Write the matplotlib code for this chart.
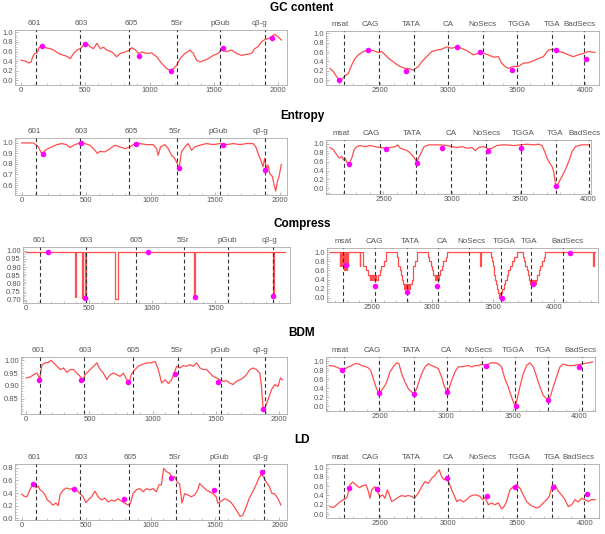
import matplotlib
matplotlib.use('Agg')
import matplotlib.pyplot as plt
from matplotlib.ticker import FormatStrFormatter, AutoMinorLocator

plt.rcParams['font.family'] = ['Liberation Sans', 'DejaVu Sans']

# region names
left_names = ['601', '603', '605', '5Sr', 'pGub', 'cβ-g']
right_names = ['msat', 'CAG', 'TATA', 'CA', 'NoSecs', 'TGGA', 'TGA', 'BadSecs']

# ---- GC content ----
gc_l_x = [0, 34, 60, 78, 91, 106, 124, 142, 163, 189, 228, 254, 292, 331, 357, 383, 409, 435, 461, 487,
          512, 538, 564, 590, 616, 642, 668, 707, 745, 771, 810, 844, 862, 888, 914, 939, 978, 1017, 1056, 1095,
          1134, 1159, 1185, 1211, 1237, 1276, 1315, 1341, 1366, 1392, 1431, 1457, 1496, 1535, 1553, 1599, 1638,
          1677, 1716, 1755, 1793, 1819, 1845, 1871, 1897, 1923, 1949, 1975, 2000, 2026]
gc_l_y = [0.42, 0.40, 0.36, 0.38, 0.49, 0.56, 0.57, 0.69, 0.71, 0.68, 0.66, 0.63, 0.56, 0.52, 0.50, 0.45, 0.56, 0.63, 0.66, 0.73,
          0.77, 0.70, 0.66, 0.77, 0.66, 0.69, 0.63, 0.59, 0.49, 0.56, 0.59, 0.63, 0.68, 0.64, 0.56, 0.59, 0.56, 0.57, 0.49, 0.35,
          0.24, 0.21, 0.24, 0.31, 0.45, 0.56, 0.63, 0.56, 0.42, 0.38, 0.42, 0.45, 0.52, 0.56, 0.63, 0.60, 0.63,
          0.56, 0.52, 0.54, 0.56, 0.66, 0.70, 0.80, 0.85, 0.87, 0.91, 0.96, 0.91, 0.84]
gc_l_dot_x = [163, 500, 921, 1167, 1568, 1956]
gc_l_dot_y = [0.71, 0.75, 0.51, 0.20, 0.68, 0.89]
gc_l_cuts = [114, 459, 843, 1211, 1549, 1897]
gc_l_name_x = [106, 468, 857, 1211, 1548, 1858]

gc_r_x = [2134, 2159, 2183, 2203, 2220, 2244, 2268, 2293, 2317, 2342, 2378, 2415, 2451, 2488, 2512, 2537, 2573, 2610, 2646, 2683,
          2720, 2744, 2781, 2805, 2841, 2878, 2914, 2951, 2988, 3024, 3061, 3097, 3134, 3183, 3219, 3256, 3292, 3329, 3366, 3390,
          3414, 3439, 3475, 3512, 3548, 3585, 3621, 3658, 3695, 3731, 3768, 3804, 3841, 3878, 3914, 3951, 3987, 4024, 4072]
gc_r_y = [0.25, 0.18, 0.07, 0.0, 0.01, 0.09, 0.14, 0.32, 0.46, 0.54, 0.61, 0.64, 0.63, 0.59, 0.61, 0.54, 0.44, 0.36, 0.29, 0.25,
          0.24, 0.21, 0.29, 0.39, 0.50, 0.61, 0.64, 0.66, 0.71, 0.68, 0.71, 0.68, 0.63, 0.54, 0.57, 0.57, 0.54, 0.49, 0.50, 0.36,
          0.29, 0.25, 0.29, 0.29, 0.36, 0.37, 0.41, 0.46, 0.50, 0.64, 0.66, 0.61, 0.59, 0.54, 0.50, 0.54, 0.57, 0.61, 0.59]
gc_r_dot_x = [2203, 2415, 2690, 3061, 3231, 3468, 3785, 4007]
gc_r_dot_y = [0.0, 0.64, 0.19, 0.70, 0.59, 0.21, 0.64, 0.44]
gc_r_cuts = [2239, 2495, 2751, 3000, 3251, 3505, 3761, 3992]
gc_r_name_x = [2207, 2427, 2727, 3000, 3251, 3519, 3756, 3958]

# ---- Entropy ----
ent_l_x = [0, 90, 108, 129, 147, 163, 181, 206, 232, 271, 310, 348, 374, 413, 452, 490, 529, 568, 586, 606,
           645, 684, 722, 761, 800, 839, 877, 916, 968, 1019, 1045, 1058, 1076, 1109, 1135, 1161, 1187, 1205, 1220, 1238,
           1264, 1290, 1316, 1342, 1380, 1432, 1484, 1535, 1587, 1638, 1690, 1742, 1793, 1814, 1832, 1858, 1870, 1883,
           1896, 1909, 1922, 1943, 1956, 1969, 1981, 1994, 2012]
ent_l_y = [1.0, 1.0, 0.985, 0.962, 0.915, 0.893, 0.93, 0.946, 0.962, 0.984, 0.994, 0.984, 0.956, 0.984, 1.0, 0.994, 0.978, 0.93, 0.90, 0.92,
           0.915, 0.946, 0.978, 0.962, 0.946, 0.962, 0.994, 0.994, 0.984, 0.984, 0.946, 0.883, 0.962, 0.984, 0.946, 0.883, 0.852, 0.805, 0.757, 0.915,
           0.962, 0.994, 0.93, 0.962, 0.978, 0.994, 0.984, 0.994, 0.984, 0.994, 0.984, 0.994, 0.994, 0.962, 0.90, 0.82, 0.773, 0.852,
           0.757, 0.789, 0.71, 0.68, 0.60, 0.543, 0.63, 0.68, 0.795]
ent_l_dot_x = [163, 459, 885, 1220, 1561, 1889]
ent_l_dot_y = [0.893, 1.0, 0.994, 0.757, 0.984, 0.742]
ent_l_cuts = [108, 452, 833, 1200, 1535, 1883]
ent_l_name_x = [98, 459, 846, 1187, 1527, 1850]

ent_r_x = [2108, 2132, 2157, 2176, 2194, 2206, 2218, 2230, 2250, 2267, 2284, 2304, 2328, 2365, 2402, 2439, 2475, 2512, 2549, 2586,
           2603, 2623, 2659, 2684, 2708, 2728, 2745, 2757, 2775, 2799, 2831, 2868, 2917, 2966, 3002, 3039, 3076, 3113, 3150, 3174,
           3199, 3235, 3272, 3297, 3333, 3370, 3407, 3456, 3505, 3554, 3603, 3640, 3664, 3684, 3701, 3721, 3738, 3750,
           3762, 3772, 3790, 3810, 3835, 3860, 3885, 3910, 3950, 4007]
ent_r_y = [0.92, 0.87, 0.755, 0.68, 0.72, 0.64, 0.68, 0.59, 0.57, 0.68, 0.87, 0.94, 0.965, 0.94, 0.965, 0.94, 0.92, 0.905, 0.92, 0.94,
           0.98, 0.905, 0.87, 0.83, 0.755, 0.68, 0.59, 0.68, 0.79, 0.94, 0.98, 0.98, 0.98, 0.965, 0.94, 0.92, 0.94, 0.905, 0.92, 0.85,
           0.92, 0.94, 0.89, 0.905, 0.965, 0.98, 0.98, 0.965, 0.98, 0.995, 0.98, 0.995, 0.965, 0.83, 0.68, 0.57, 0.49, 0.38,
           0.11, 0.04, 0.15, 0.26, 0.415, 0.60, 0.83, 0.94, 0.98, 0.98]
ent_r_dot_x = [2248, 2520, 2745, 2929, 3265, 3510, 3770]
ent_r_dot_y = [0.54, 0.89, 0.57, 0.92, 0.85, 0.92, 0.04]
ent_r_cuts = [2213, 2475, 2740, 2995, 3255, 3510, 3770, 4012]
ent_r_name_x = [2186, 2409, 2708, 2998, 3255, 3524, 3757, 3975]

# ---- Compress ----
comp_l_x = [5, 390, 390, 396, 396, 447, 447, 452, 452, 470, 470, 475, 475, 703, 703, 727, 727,
            1333, 1333, 1338, 1338, 1956, 1956, 1961, 1961, 2054]
comp_l_y = [0.995, 0.995, 0.715, 0.715, 0.995, 0.995, 0.712, 0.712, 0.995, 0.995, 0.712, 0.712, 0.995, 0.995, 0.705, 0.705, 0.995,
            0.995, 0.72, 0.72, 0.995, 0.995, 0.72, 0.72, 0.995, 0.995]
comp_l_dot_x = [176, 466, 966, 1340, 1959]
comp_l_dot_y = [0.99, 0.713, 0.99, 0.715, 0.72]
comp_l_cuts = [111, 474, 869, 1248, 1598, 1959]
comp_l_name_x = [105, 479, 874, 1243, 1598, 1927]

comp_r_x = [2157, 2239, 2244, 2253, 2260, 2265, 2272, 2278, 2284, 2290, 2297, 2303, 2310, 2316, 2404, 2410, 2431, 2452, 2470, 2486,
            2492, 2498, 2505, 2511, 2520, 2527, 2535, 2541, 2550, 2569, 2582, 2600, 2618, 2706, 2715, 2722, 2733, 2741, 2750, 2761,
            2769, 2775, 2780, 2787, 2795, 2802, 2810, 2818, 2829, 2837, 2845, 2857, 2870, 2966, 2975, 2986, 2994, 3007, 3021, 3029,
            3035, 3043, 3049, 3058, 3066, 3076, 3090, 3109, 3117, 3391, 3397, 3479, 3487, 3496, 3503, 3510, 3517, 3523, 3529, 3537,
            3545, 3552, 3558, 3565, 3575, 3589, 3597, 3611, 3625, 3638, 3657, 3674, 3693, 3748, 3756, 3761, 3775, 3783, 3792, 3800,
            3806, 3812, 3820, 3828, 3836, 3845, 3852, 3863, 3877, 3885, 3899, 3913, 3921, 4319, 4325, 4338]
comp_r_y = [1.0, 0.7, 1.0, 0.7, 1.0, 0.7, 1.0, 0.6, 1.0, 0.6, 1.0, 0.7, 1.0, 1.0, 0.7, 1.0, 0.7, 0.6, 0.5, 0.4,
            0.5, 0.4, 0.5, 0.4, 0.5, 0.4, 0.5, 0.4, 0.5, 0.6, 0.7, 0.8, 1.0, 0.9, 0.8, 0.7, 0.6, 0.5, 0.4, 0.3,
            0.2, 0.3, 0.2, 0.3, 0.2, 0.3, 0.2, 0.3, 0.4, 0.5, 0.7, 0.8, 1.0, 0.9, 0.8, 0.7, 0.6, 0.5, 0.4, 0.5,
            0.4, 0.5, 0.4, 0.5, 0.6, 0.7, 0.8, 0.9, 1.0, 0.7, 1.0, 0.9, 0.8, 0.7, 0.6, 0.5, 0.4, 0.3, 0.2, 0.1,
            0.0, 0.1, 0.0, 0.1, 0.2, 0.3, 0.4, 0.5, 0.6, 0.7, 0.8, 0.9, 1.0, 0.9, 0.8, 0.7, 0.6, 0.5, 0.4, 0.3,
            0.4, 0.3, 0.4, 0.3, 0.4, 0.3, 0.4, 0.5, 0.6, 0.7, 0.8, 0.9, 1.0, 0.7, 1.0, 1.0]
comp_r_dot_x = [2294, 2525, 2793, 3038, 3572, 3830, 4132]
comp_r_dot_y = [0.725, 0.27, 0.13, 0.27, 0.01, 0.30, 0.98]
comp_r_cuts = [2267, 2530, 2788, 3043, 3304, 3562, 3814, 4069]
comp_r_name_x = [2267, 2527, 2815, 3084, 3322, 3589, 3797, 4110]

# ---- BDM ----
bdm_l_x = [0, 32, 58, 84, 97, 105, 111, 124, 150, 176, 195, 216, 242, 268, 295, 321, 347, 374, 400, 426,
           447, 466, 492, 518, 545, 558, 584, 610, 637, 663, 690, 716, 742, 768, 795, 816, 834, 861, 887, 913,
           953, 992, 1019, 1045, 1071, 1098, 1124, 1150, 1169, 1190, 1216, 1242, 1269, 1295, 1321, 1348, 1374, 1400,
           1427, 1453, 1479, 1505, 1532, 1558, 1584, 1611, 1637, 1663, 1690, 1716, 1742, 1769, 1795, 1821, 1848,
           1861, 1874, 1887, 1913, 1940, 1966, 1992, 2011, 2027]
bdm_l_y = [0.931, 0.935, 0.944, 0.95, 0.937, 0.924, 0.944, 0.983, 0.99, 0.992, 1.0, 0.99, 0.977, 0.964, 0.97, 0.953, 0.964, 0.964, 0.95, 0.937,
           0.922, 0.944, 0.957, 0.97, 0.983, 0.99, 0.964, 0.95, 0.924, 0.944, 0.95, 0.944, 0.937, 0.95, 0.924, 0.918, 0.948, 0.964, 0.977, 0.983,
           0.99, 0.99, 0.996, 0.964, 0.911, 0.924, 0.909, 0.924, 0.948, 0.977, 0.97, 0.979, 0.977, 0.983, 0.977, 0.99, 0.97, 0.964,
           0.964, 0.95, 0.937, 0.931, 0.924, 0.918, 0.92, 0.911, 0.905, 0.918, 0.924, 0.931, 0.944, 0.964, 0.97, 0.964, 0.95,
           0.898, 0.81, 0.813, 0.846, 0.885, 0.905, 0.898, 0.931, 0.924]
bdm_l_dot_x = [97, 434, 808, 1176, 1519, 1874]
bdm_l_dot_y = [0.922, 0.922, 0.915, 0.948, 0.914, 0.81]
bdm_l_cuts = [111, 453, 842, 1203, 1537, 1892]
bdm_l_name_x = [97, 466, 848, 1190, 1537, 1853]

bdm_r_x = [2119, 2149, 2186, 2212, 2237, 2262, 2287, 2312, 2337, 2362, 2387, 2412, 2430, 2450, 2470, 2490, 2505, 2520, 2538, 2555,
           2575, 2600, 2625, 2643, 2663, 2688, 2713, 2738, 2756, 2776, 2796, 2814, 2839, 2864, 2889, 2914, 2939, 2964, 2982, 3005,
           3019, 3039, 3064, 3089, 3127, 3165, 3190, 3215, 3240, 3265, 3290, 3315, 3340, 3365, 3390, 3415, 3440, 3465, 3490, 3516,
           3530, 3553, 3578, 3603, 3628, 3654, 3679, 3704, 3729, 3767, 3784, 3804, 3829, 3854, 3879, 3917, 3955, 3992, 4030, 4068,
           4100]
bdm_r_y = [0.90, 0.89, 0.85, 0.81, 0.83, 0.87, 0.90, 0.94, 0.94, 0.90, 0.88, 0.85, 0.79, 0.61, 0.43, 0.29, 0.32, 0.39, 0.46, 0.57,
           0.76, 0.87, 0.96, 0.94, 0.72, 0.54, 0.39, 0.32, 0.28, 0.39, 0.57, 0.72, 0.87, 0.94, 0.90, 0.87, 0.83, 0.65, 0.46, 0.31,
           0.39, 0.57, 0.76, 0.87, 0.88, 0.90, 0.87, 0.90, 0.90, 0.93, 0.90, 0.93, 0.96, 0.96, 0.94, 0.87, 0.61, 0.43, 0.21, 0.0,
           0.13, 0.43, 0.72, 0.90, 0.96, 0.87, 0.65, 0.43, 0.24, 0.13, 0.24, 0.43, 0.65, 0.87, 0.93, 0.90, 0.90, 0.92, 0.94, 0.96,
           0.98]
bdm_r_dot_x = [2212, 2492, 2756, 3002, 3298, 3523, 3767, 3999]
bdm_r_dot_y = [0.80, 0.30, 0.28, 0.32, 0.90, 0.0, 0.15, 0.87]
bdm_r_cuts = [2232, 2490, 2756, 3007, 3265, 3516, 3767, 4017]
bdm_r_name_x = [2199, 2445, 2733, 3002, 3240, 3503, 3724, 4010]

# ---- LD ----
ld_l_x = [0, 18, 39, 52, 65, 77, 95, 111, 129, 142, 163, 181, 199, 219, 240, 266, 284, 297, 323, 348,
          374, 400, 426, 452, 477, 498, 516, 542, 568, 593, 619, 645, 671, 697, 722, 748, 774, 800, 826, 844,
          864, 890, 916, 942, 968, 993, 1019, 1045, 1066, 1084, 1102, 1122, 1148, 1174, 1187, 1205, 1226, 1244, 1264, 1290,
          1316, 1342, 1367, 1380, 1406, 1432, 1458, 1484, 1509, 1522, 1548, 1574, 1600, 1625, 1651, 1677, 1695, 1716, 1742, 1767,
          1793, 1819, 1839, 1858, 1876, 1896, 1922, 1943, 1961, 1987, 2012]
ld_l_y = [0.38, 0.35, 0.34, 0.39, 0.46, 0.50, 0.54, 0.48, 0.51, 0.45, 0.42, 0.37, 0.29, 0.26, 0.21, 0.24, 0.20, 0.37, 0.45, 0.48,
          0.46, 0.47, 0.45, 0.39, 0.34, 0.25, 0.29, 0.34, 0.43, 0.34, 0.29, 0.32, 0.26, 0.29, 0.27, 0.31, 0.27, 0.24, 0.21, 0.24,
          0.39, 0.45, 0.47, 0.42, 0.47, 0.45, 0.47, 0.42, 0.53, 0.53, 0.79, 0.74, 0.71, 0.63, 0.66, 0.58, 0.54, 0.24, 0.39, 0.37,
          0.34, 0.37, 0.45, 0.55, 0.50, 0.45, 0.42, 0.39, 0.34, 0.24, 0.27, 0.31, 0.29, 0.25, 0.18, 0.09, 0.03, 0.05, 0.18, 0.32,
          0.42, 0.53, 0.63, 0.69, 0.66, 0.58, 0.50, 0.39, 0.39, 0.32, 0.21]
ld_l_dot_x = [90, 405, 792, 1156, 1496, 1863]
ld_l_dot_y = [0.55, 0.46, 0.30, 0.64, 0.45, 0.73]
ld_l_cuts = [108, 452, 833, 1200, 1530, 1883]
ld_l_name_x = [98, 459, 846, 1192, 1530, 1850]

ld_r_x = [2134, 2158, 2183, 2207, 2232, 2249, 2261, 2280, 2300, 2324, 2349, 2373, 2398, 2415, 2427, 2439, 2463, 2480, 2500, 2520,
          2537, 2554, 2573, 2585, 2610, 2634, 2659, 2683, 2707, 2732, 2751, 2781, 2805, 2829, 2854, 2878, 2903, 2920, 2934, 2951,
          2968, 2988, 3007, 3025, 3042, 3061, 3086, 3110, 3134, 3159, 3183, 3208, 3232, 3251, 3268, 3293, 3317, 3341, 3366, 3390,
          3408, 3427, 3451, 3476, 3500, 3524, 3549, 3573, 3598, 3622, 3646, 3671, 3695, 3720, 3739, 3756, 3781, 3805, 3830, 3854,
          3878, 3903, 3927, 3951, 3976, 4000, 4025, 4049, 4074]
ld_r_y = [0.16, 0.14, 0.20, 0.26, 0.31, 0.33, 0.38, 0.63, 0.69, 0.63, 0.57, 0.61, 0.63, 0.49, 0.34, 0.52, 0.59, 0.49, 0.38, 0.41,
          0.34, 0.52, 0.38, 0.27, 0.31, 0.36, 0.40, 0.38, 0.40, 0.38, 0.34, 0.45, 0.59, 0.70, 0.66, 0.77, 0.84, 0.91, 0.95, 0.81,
          0.74, 0.77, 0.66, 0.52, 0.41, 0.27, 0.31, 0.26, 0.31, 0.38, 0.41, 0.41, 0.38, 0.31, 0.36, 0.20, 0.24, 0.20, 0.24, 0.11,
          0.16, 0.27, 0.52, 0.59, 0.63, 0.56, 0.41, 0.27, 0.20, 0.16, 0.13, 0.16, 0.24, 0.31, 0.38, 0.56, 0.63, 0.49, 0.41, 0.31,
          0.16, 0.20, 0.31, 0.26, 0.34, 0.31, 0.27, 0.31, 0.31]
ld_r_dot_x = [2276, 2480, 2993, 3281, 3491, 3769, 4018]
ld_r_dot_y = [0.57, 0.54, 0.77, 0.38, 0.59, 0.58, 0.43]
ld_r_cuts = [2239, 2495, 2751, 3000, 3252, 3505, 3757, 3993]
ld_r_name_x = [2207, 2427, 2727, 3000, 3252, 3520, 3757, 3952]

RED = '#ff4d4d'
MAGENTA = '#ff00ff'
W, H = 605, 534

fig = plt.figure(figsize=(W / 100, H / 100), dpi=100)


def panel(box, xlim, ylim, xticks, yticks, yfmt, lx, ly, dx, dy, cuts, names, name_x, steps=False):
    """one framed panel, box given as pixel edges (left, top, right, bottom)"""
    l, t, r, b = box
    ax = fig.add_axes([l / W, 1 - b / H, (r - l) / W, (b - t) / H])
    ax.plot(lx, ly, color=RED, lw=0.9, drawstyle='steps-post' if steps else 'default', zorder=2)
    for c in cuts:
        ax.axvline(c, color='#333333', lw=0.8, ls=(0, (3.5, 2.5)), zorder=3)
    ax.plot(dx, dy, 'o', color=MAGENTA, ms=4, mec='none', zorder=4, clip_on=False)
    for n, nx in zip(names, name_x):
        ax.annotate(n, xy=(nx, 1), xycoords=('data', 'axes fraction'), xytext=(0, 4.8),
                    textcoords='offset points', ha='center', va='center', fontsize=5.8, color='#555555')
    ax.set_xlim(xlim)
    ax.set_ylim(ylim)
    ax.set_xticks(xticks)
    ax.set_yticks(yticks)
    ax.yaxis.set_major_formatter(FormatStrFormatter(yfmt))
    ax.xaxis.set_minor_locator(AutoMinorLocator(5))
    ax.yaxis.set_minor_locator(AutoMinorLocator())
    for s in ax.spines.values():
        s.set_color('#aaaaaa')
        s.set_linewidth(0.6)
    ax.tick_params(direction='in', length=2.5, width=0.5, color='#999999', labelsize=5.5,
                   labelcolor='#555555', pad=1.5)
    ax.tick_params(which='minor', direction='in', length=1.3, width=0.4, color='#999999')
    return ax


xt_l = [0, 500, 1000, 1500, 2000]
xt_r = [2500, 3000, 3500, 4000]
yt_01 = [0.0, 0.2, 0.4, 0.6, 0.8, 1.0]

# GC content
fig.text(302 / W, 1 - 8 / H, 'GC content', ha='center', va='center', fontsize=8.5, fontweight='bold')
panel((15, 30, 287, 85), (-47, 2070), (-0.1, 1.05), xt_l, yt_01, '%.1f',
      gc_l_x, gc_l_y, gc_l_dot_x, gc_l_dot_y, gc_l_cuts, left_names, gc_l_name_x)
panel((326, 31, 599, 85), (2105, 4102), (-0.107, 1.05), xt_r, yt_01, '%.1f',
      gc_r_x, gc_r_y, gc_r_dot_x, gc_r_dot_y, gc_r_cuts, right_names, gc_r_name_x)

# Entropy
fig.text(302 / W, 1 - 116 / H, 'Entropy', ha='center', va='center', fontsize=8.5, fontweight='bold')
panel((15, 138, 287, 195), (-52, 2056), (0.505, 1.047), xt_l, [0.6, 0.7, 0.8, 0.9, 1.0], '%.1f',
      ent_l_x, ent_l_y, ent_l_dot_x, ent_l_dot_y, ent_l_cuts, left_names, ent_l_name_x)
panel((326, 140, 591, 194), (2078, 4024), (-0.13, 1.09), xt_r, yt_01, '%.1f',
      ent_r_x, ent_r_y, ent_r_dot_x, ent_r_dot_y, ent_r_cuts, right_names, ent_r_name_x)

# Compress
fig.text(302 / W, 1 - 224 / H, 'Compress', ha='center', va='center', fontsize=8.5, fontweight='bold')
panel((23, 247, 290, 303), (-21, 2090), (0.68, 1.023), [0, 500, 1000, 1500],
      [0.70, 0.75, 0.80, 0.85, 0.90, 0.95, 1.00], '%.2f',
      comp_l_x, comp_l_y, comp_l_dot_x, comp_l_dot_y, comp_l_cuts, left_names, comp_l_name_x)
panel((327, 248, 598, 302), (2135, 4360), (-0.087, 1.087), xt_r, yt_01, '%.1f',
      comp_r_x, comp_r_y, comp_r_dot_x, comp_r_dot_y, comp_r_cuts, right_names, comp_r_name_x, steps=True)

# BDM
fig.text(302 / W, 1 - 333 / H, 'BDM', ha='center', va='center', fontsize=8.5, fontweight='bold')
panel((21, 357, 287, 414), (-42, 2063), (0.79, 1.013), xt_l, [0.85, 0.90, 0.95, 1.00], '%.2f',
      bdm_l_x, bdm_l_y, bdm_l_dot_x, bdm_l_dot_y, bdm_l_cuts, left_names, bdm_l_name_x)
panel((326, 357, 595, 411), (2094, 4118), (-0.10, 1.088), xt_r, yt_01, '%.1f',
      bdm_r_x, bdm_r_y, bdm_r_dot_x, bdm_r_dot_y, bdm_r_cuts, right_names, bdm_r_name_x)

# LD
fig.text(302 / W, 1 - 440 / H, 'LD', ha='center', va='center', fontsize=8.5, fontweight='bold')
panel((15, 464, 287, 520), (-52, 2059), (-0.026, 0.858), xt_l, [0.0, 0.2, 0.4, 0.6, 0.8], '%.1f',
      ld_l_x, ld_l_y, ld_l_dot_x, ld_l_dot_y, ld_l_cuts, left_names, ld_l_name_x)
panel((326, 464, 599, 518), (2105, 4103), (-0.086, 1.08), xt_r, yt_01, '%.1f',
      ld_r_x, ld_r_y, ld_r_dot_x, ld_r_dot_y, ld_r_cuts, right_names, ld_r_name_x)

fig.savefig('out.png', dpi=100, facecolor='white')
